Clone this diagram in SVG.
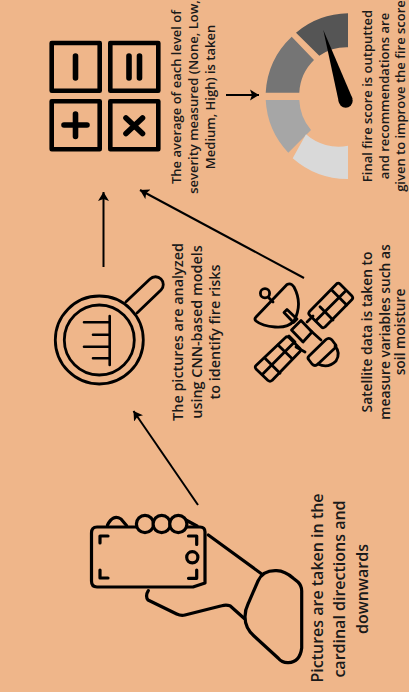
<svg xmlns="http://www.w3.org/2000/svg" width="409" height="692" viewBox="0 0 409 692">
<style>
.t{font-family:"Open Sans","Noto Sans","Liberation Sans",sans-serif;font-weight:600;fill:#1a1a1a;text-anchor:middle}
.s{font-size:13px}
.m{font-size:14.400px}
.n{font-size:13.800px}
.b{font-size:16px}
.i{fill:none;stroke:#000;stroke-linecap:round;stroke-linejoin:round}
.c{fill:none;stroke:#000;stroke-width:2}
</style>
<defs><marker id="h" markerUnits="userSpaceOnUse" markerWidth="11" markerHeight="12" refX="9" refY="6" orient="auto"><path d="M0,.5L9,6L0,11.5L2,6Z"/></marker></defs>
<rect width="409" height="692" fill="#efb68a"/>
<g id="calculator">
<g class="i" stroke-width="4.6"><rect x="51.7" y="43" width="48" height="47.7"/><rect x="110.3" y="43" width="48" height="47.7"/><rect x="51.7" y="101.3" width="48" height="48"/><rect x="110.3" y="101.3" width="48" height="48"/></g>
<path class="i" stroke-width="5.6" d="M75.5,56V78M129,56V78M139.500,56V78M64,125H87M75.5,114V136.500M126,118L142.500,133.500M142.500,118L126,133.500"/>
<text class="t s" transform="translate(181,97) rotate(-90)">The average of each level of</text>
<text class="t s" transform="translate(198,97) rotate(-90)">severity measured (None, Low,</text>
<text class="t s" transform="translate(215,97) rotate(-90)">Medium, High) is taken</text>
</g>
<g id="gauge">
<path fill="#555" d="M348,13.3A83,83 0 0 0 296,32.7L319.3,55.7A49,49 0 0 1 348,47.3Z"/>
<path fill="#757575" d="M291.7,36.7A83,83 0 0 0 265.7,92.7H299.3A49,49 0 0 1 314,60Z"/>
<path fill="#a6a6a6" d="M265.7,100A83,83 0 0 0 288.3,152.7L311,130A49,49 0 0 1 299.3,100Z"/>
<path fill="#d9d9d9" d="M292.7,158.3A83,83 0 0 0 348,179V145.7A49,49 0 0 1 306,134.3Z"/>
<path d="M323.3,30L352.500,98.500L339,103Z"/><circle cx="345.7" cy="100.7" r="7"/>
<text class="t s" transform="translate(371.500,96) rotate(-90)">Final fire score is outputted</text>
<text class="t s" transform="translate(388.500,96) rotate(-90)">and recommendations are</text>
<text class="t s" transform="translate(405,96) rotate(-90)">given to improve the fire score</text>
</g>
<g id="magnifier">
<g class="i" stroke-width="2.8"><circle cx="99.3" cy="340" r="44"/><circle cx="99.3" cy="340" r="35"/><path d="M126,301.7L150,279A7.6,7.6 0 0 1 161,290L137,313"/></g>
<path class="i" stroke-width="2.6" stroke-linecap="butt" d="M109.7,316V365M84,322.3H109.7M93,334.7H109.7M84,346.7H109.7M93,358.3H109.7"/>
<text class="t m" transform="translate(183,332) rotate(-90)">The pictures are analyzed</text>
<text class="t m" transform="translate(201.500,332) rotate(-90)">using CNN-based models</text>
<text class="t m" transform="translate(220,332) rotate(-90)">to identify fire risks</text>
</g>
<g id="satellite">
<g class="i" stroke-width="2.8">
<path d="M256,317L287,284.500Q291,282.500 294,287Q303,304 294,321Q288,328 275,327Q262,326 256,321Q254,319 256,317Z"/>
<circle cx="265" cy="293.3" r="4.6"/><path d="M269,298L273,302"/>
<path d="M284,312.500L287,309.500L297,319L293.500,322.500Z"/>
<path d="M337,283.500Q338.500,282.500 340,284L352,296Q353.500,298 352,299.500L325,327Q323,328.500 321.500,327L309.500,315Q308,313.500 309.500,311.500Z"/>
<path d="M345.800,290.800L315.800,320.800M331.700,290L346.700,305M320,306.700L333,320"/>
<path d="M285.500,337.500Q287,336 289,337.500L300,348.500Q301,350 300,351.500L272,380.500Q270,382 268,380.500L256,369Q254.500,367 256,365.500Z"/>
<path d="M293.300,343.300L262.500,374.200M278,345L291.700,358.300M265,358.300L280,373.300"/>
<path d="M301,320.500L312,332L303,342L291.500,330Z"/>
<path d="M307,322L313,316M289,336L295,342M311,331L321,340M296,347L305,352"/>
<path d="M326,339.500Q329,337 332,340L335,344Q337,346 335,348L318,364Q315,367 312,364L309,360Q307,358 309,356Z"/>
<path d="M335,346Q341,353 336,361Q328,369 318,364"/>
</g>
<text class="t n" transform="translate(372,332) rotate(-90)">Satellite data is taken to</text>
<text class="t n" transform="translate(389.500,332) rotate(-90)">measure variables such as</text>
<text class="t n" transform="translate(405,332) rotate(-90)">soil moisture</text>
</g>
<g id="hand">
<g class="i" stroke-width="3.2">
<path d="M97,527H200Q205,527 205,532V583L193,587H97Q91.5,587 91.5,581V533Q91.5,527 97,527Z"/>
<path d="M107.500,525Q113,514 121,519L126.500,525.500M185,519.500L197,526M208.300,535L261.700,574M148.300,590.700Q145,596 148,600L176.700,614Q181,616 185,615L221.700,605.700Q226,604.500 230,605.700L244,618.300"/>
<path d="M276.700,570.700Q285,571 293.300,578.300L298,582Q302,586 301.700,592V648Q300,662 288.300,662.700Q282,663 278.300,658.300L254,636Q245,628 245,616.700Q245,610 248.300,603.300L258,581Q263,570 276.700,570.700Z"/>
<circle cx="145" cy="524" r="8.600" fill="#efb68a"/><circle cx="161.700" cy="524" r="8.600" fill="#efb68a"/><circle cx="178.300" cy="524" r="8.600" fill="#efb68a"/>
<circle cx="192.300" cy="557.300" r="5.600"/>
<path d="M100,543V536H108M100,570V578H108M188.500,536H196.700V544.500M188.500,578.300H196.700V570"/>
</g>
<text class="t b" transform="translate(323,588) rotate(-90)">Pictures are taken in the</text>
<text class="t b" transform="translate(345,589) rotate(-90)">cardinal directions and</text>
<text class="t b" transform="translate(368,589) rotate(-90)">downwards</text>
</g>
<g id="connectors">
<path class="c" marker-end="url(#h)" d="M226,95H259"/>
<path class="c" marker-end="url(#h)" d="M103.500,267V192"/>
<path class="c" marker-end="url(#h)" d="M304,278L140,190"/>
<path class="c" marker-end="url(#h)" d="M198,505L133.500,411"/>
</g>
</svg>
